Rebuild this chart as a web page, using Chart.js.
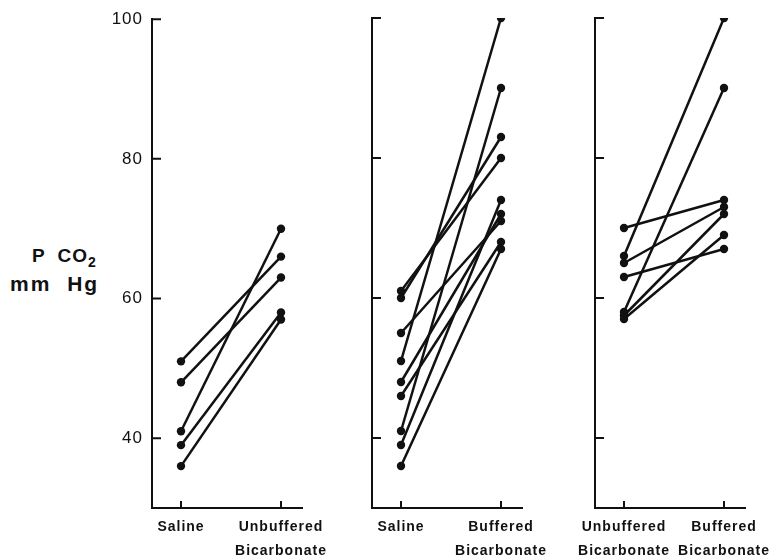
<!DOCTYPE html>
<html>
<head>
<meta charset="utf-8">
<script src="https://cdn.jsdelivr.net/npm/chart.js@4"></script>
<style>
  body { margin: 0; background: #fff; width: 774px; height: 558px; position: relative; overflow: hidden; font-family: "Liberation Sans", Arial, sans-serif; }
  canvas { position: absolute; top: 0; }
  .ytitle { position: absolute; font-weight: bold; color: #111; white-space: nowrap; }
</style>
</head>
<body>
<div class="ytitle" style="left:32px; top:245px; font-size:19px; letter-spacing:1px; word-spacing:6px;">P CO<sub style="font-size:14px;">2</sub></div>
<div class="ytitle" style="left:10px; top:272px; font-size:21px; letter-spacing:2px; word-spacing:8px;">mm Hg</div>
<canvas id="p1" width="247" height="558" style="left:100px"></canvas>
<canvas id="p2" width="247" height="558" style="left:320px"></canvas>
<canvas id="p3" width="247" height="558" style="left:543px"></canvas>
<script>
// panel 1: saline vs unbuffered bicarbonate
var p1Labels = [["Saline"], ["Unbuffered", "Bicarbonate"]];
var p1Before = [51, 48, 41, 39, 36];
var p1After  = [66, 63, 70, 58, 57];

// panel 2: saline vs buffered bicarbonate
var p2Labels = [["Saline"], ["Buffered", "Bicarbonate"]];
var p2Before = [61, 60, 55, 51, 48, 46, 41, 39, 36];
var p2After  = [80, 83, 71, 100, 72, 68, 90, 74, 67];

// panel 3: unbuffered vs buffered bicarbonate
var p3Labels = [["Unbuffered", "Bicarbonate"], ["Buffered", "Bicarbonate"]];
var p3Before = [70, 66, 65, 63, 58, 57.5, 57];
var p3After  = [74, 100, 73, 67, 90, 72, 69];

var yTicks = [40, 60, 80, 100];

// wider lettering, like the original typeset labels
var spacing = {
  id: 'spacing',
  beforeDraw: function(chart) { chart.ctx.letterSpacing = '1px'; }
};

// short tick marks pointing into the plot
var inwardTicks = {
  id: 'inwardTicks',
  afterDraw: function(chart) {
    var ctx = chart.ctx, a = chart.chartArea;
    var xs = chart.scales.x, ys = chart.scales.y;
    ctx.save();
    ctx.strokeStyle = '#111';
    ctx.lineWidth = 2;
    ctx.beginPath();
    yTicks.forEach(function(v) {
      var y = ys.getPixelForValue(v);
      ctx.moveTo(a.left, y); ctx.lineTo(a.left + 9, y);
    });
    [0, 1].forEach(function(v) {
      var x = xs.getPixelForValue(v);
      ctx.moveTo(x, a.bottom); ctx.lineTo(x, a.bottom - 7);
    });
    ctx.stroke();
    ctx.restore();
  }
};

function panel(id, labels, before, after, showY) {
  var datasets = before.map(function(b, i) {
    return {
      data: [{x: 0, y: b}, {x: 1, y: after[i]}],
      borderColor: '#111',
      backgroundColor: '#111',
      borderWidth: 2.5,
      pointRadius: 4.2,
      pointBorderWidth: 0
    };
  });
  new Chart(document.getElementById(id), {
    type: 'line',
    data: { datasets: datasets },
    options: {
      responsive: false,
      animation: false,
      layout: { padding: { top: 18, right: 45, left: 0, bottom: 0 } },
      plugins: { legend: { display: false }, tooltip: { enabled: false } },
      scales: {
        x: {
          type: 'linear', min: -0.29, max: 1.21,
          grid: { display: false, drawTicks: false },
          border: { display: true, color: '#111', width: 2 },
          afterBuildTicks: function(s) { s.ticks = [{value: 0}, {value: 1}]; },
          afterFit: function(s) { s.height = 50; },
          ticks: {
            autoSkip: false, maxRotation: 0, padding: 7,
            color: '#111',
            font: { family: 'Liberation Sans', size: 14, weight: 'bold', lineHeight: 1.72 },
            callback: function(v) { return labels[v]; }
          }
        },
        y: {
          min: 30, max: 100,
          grid: { display: false, drawTicks: false },
          border: { display: true, color: '#111', width: 2 },
          afterBuildTicks: function(s) { s.ticks = yTicks.map(function(v) { return {value: v}; }); },
          afterFit: function(s) { s.width = 52; },
          ticks: {
            display: showY, padding: 9, color: '#111',
            font: { family: 'Liberation Sans', size: 17 }
          }
        }
      }
    },
    plugins: [spacing, inwardTicks]
  });
}

panel('p1', p1Labels, p1Before, p1After, true);
panel('p2', p2Labels, p2Before, p2After, false);
panel('p3', p3Labels, p3Before, p3After, false);
</script>
</body>
</html>
